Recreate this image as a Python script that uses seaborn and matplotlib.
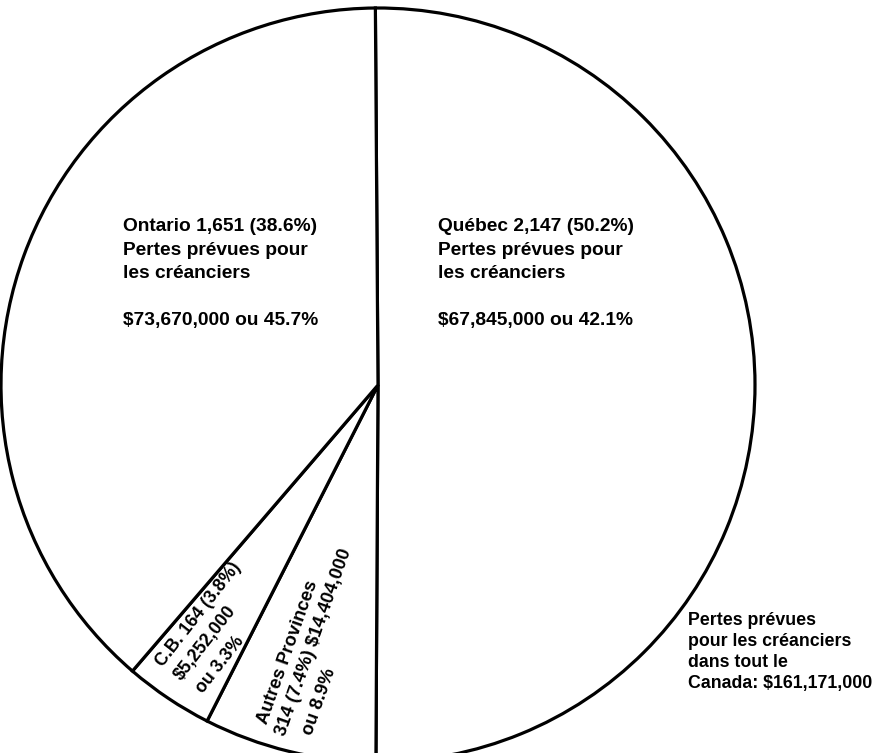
import matplotlib
matplotlib.use("Agg")
import matplotlib.pyplot as plt
import seaborn as sns

sns.set_theme(style="white")
plt.rcParams['font.family'] = ['Liberation Sans', 'DejaVu Sans']

# Data
provinces = ["Québec", "Autres Provinces", "C.B.", "Ontario"]
shares = [50.2, 7.4, 3.8, 38.6]

ontario_lines = ["Ontario 1,651 (38.6%)", "Pertes prévues pour", "les créanciers", "",
                 "$73,670,000 ou 45.7%"]
quebec_lines = ["Québec 2,147 (50.2%)", "Pertes prévues pour", "les créanciers", "",
                "$67,845,000 ou 42.1%"]
cb_lines = ["C.B. 164 (3.8%)", "$5,252,000", "ou 3.3%"]
autres_lines = ["Autres Provinces", "314 (7.4%) $14,404,000", "ou 8.9%"]
total_lines = ["Pertes prévues", "pour les créanciers", "dans tout le", "Canada: $161,171,000"]

W, H = 875, 753
fig = plt.figure(figsize=(W / 100, H / 100), dpi=100)
ax = fig.add_axes([0, 0, 1, 1])

cx, cy, r = 378, H - 385, 377
ax.pie(shares, startangle=90.4, counterclock=False, radius=r, center=(cx, cy),
       colors=['white'] * 4,
       wedgeprops=dict(edgecolor='black', linewidth=2.3), frame=True)
ax.set_xlim(0, W)
ax.set_ylim(0, H)
ax.set_aspect('equal')
ax.axis('off')


def put_lines(lines, x, y0, step, fs):
    for i, s in enumerate(lines):
        if s:
            ax.text(x, H - (y0 + i * step), s, fontsize=fs, fontweight='bold',
                    color='black', ha='left', va='baseline')


put_lines(ontario_lines, 123, 231, 23.5, 13.8)
put_lines(quebec_lines, 438, 231, 23.5, 13.8)
put_lines(total_lines, 688, 625, 21, 12.8)


def put_rot(lines, starts, rot, fs):
    for s, (x, y) in zip(lines, starts):
        ax.text(x, H - y, s, fontsize=fs, fontweight='bold', color='black',
                ha='left', va='baseline', rotation=rot, rotation_mode='anchor')


put_rot(cb_lines, [(163, 668), (181, 681), (203, 694)], 52, 12.8)
put_rot(autres_lines, [(267, 725), (285, 737), (312, 736)], 70.5, 13.2)

fig.savefig("out.png", dpi=100)
